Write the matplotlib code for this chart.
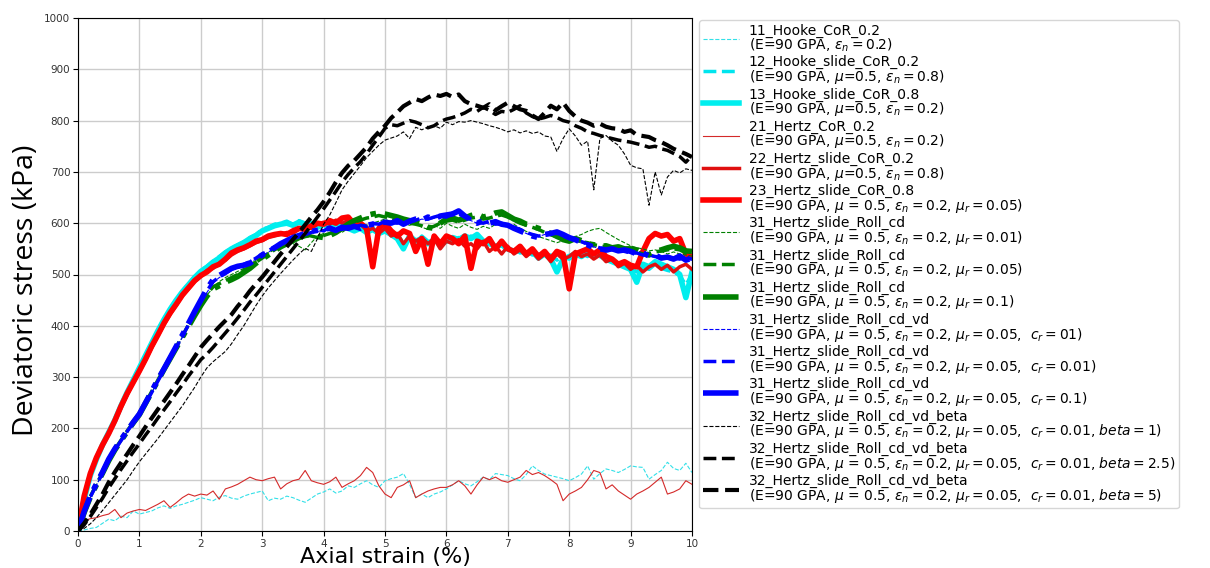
import numpy as np
import matplotlib
matplotlib.use("Agg")
import matplotlib.pyplot as plt

# axial strain grid (%), 0.1 % steps
strain = np.round(np.arange(0, 101) * 0.1, 1)

hooke_cor_02 = [
    0, 2, 5, 7, 15, 23, 20, 29, 26, 39,
    33, 36, 39, 45, 49, 44, 49, 52, 56, 60,
    65, 62, 59, 66, 69, 64, 62, 68, 72, 75,
    78, 59, 64, 62, 68, 65, 60, 56, 64, 72,
    76, 82, 74, 78, 88, 85, 92, 98, 90, 85,
    98, 102, 105, 112, 91, 65, 72, 65, 72, 76,
    82, 90, 98, 92, 88, 96, 105, 100, 112, 110,
    108, 102, 98, 110, 127, 118, 111, 108, 105, 102,
    98, 104, 111, 127, 101, 112, 121, 118, 114, 120,
    127, 125, 124, 101, 110, 118, 134, 122, 118, 132,
    114]

hooke_slide_cor_02 = [
    0, 64, 110, 142, 170, 194, 218, 246, 272, 296,
    320, 344, 368, 392, 414, 434, 452, 468, 482, 496,
    508, 516, 526, 535, 544, 552, 558, 564, 572, 578,
    588, 592, 598, 600, 604, 598, 605, 600, 602, 596,
    600, 594, 598, 590, 594, 588, 592, 585, 590, 578,
    588, 575, 580, 560, 572, 562, 575, 565, 570, 562,
    570, 565, 572, 568, 575, 570, 562, 565, 552, 556,
    548, 550, 542, 545, 538, 540, 535, 538, 528, 535,
    530, 538, 540, 535, 542, 535, 528, 530, 518, 520,
    512, 505, 515, 510, 520, 512, 508, 505, 498, 480,
    500]

hooke_slide_cor_08 = [
    0, 62, 108, 140, 168, 192, 216, 244, 270, 294,
    318, 342, 366, 390, 412, 432, 450, 466, 480, 494,
    506, 514, 524, 532, 542, 550, 556, 562, 570, 576,
    585, 590, 595, 598, 600, 596, 602, 598, 600, 592,
    598, 590, 600, 595, 590, 585, 590, 582, 588, 580,
    585, 578, 570, 550, 575, 565, 570, 560, 568, 560,
    565, 572, 568, 575, 570, 578, 565, 560, 555, 558,
    550, 545, 548, 540, 545, 532, 540, 530, 505, 530,
    535, 540, 535, 545, 538, 540, 530, 525, 520, 515,
    510, 485, 520, 515, 525, 520, 515, 510, 500, 455,
    505]

hertz_cor_02 = [
    0, 20, 24, 26, 30, 33, 42, 26, 35, 39,
    42, 40, 46, 52, 59, 46, 55, 65, 72, 68,
    72, 70, 78, 62, 82, 86, 91, 98, 105, 100,
    98, 102, 105, 82, 92, 98, 101, 118, 98, 94,
    91, 96, 105, 85, 92, 98, 108, 124, 114, 88,
    72, 65, 85, 90, 98, 65, 72, 78, 82, 85,
    85, 90, 98, 88, 72, 90, 105, 100, 105, 98,
    95, 100, 105, 118, 110, 114, 108, 100, 91, 59,
    72, 78, 85, 100, 118, 114, 82, 90, 78, 70,
    62, 72, 78, 85, 95, 105, 72, 76, 82, 98,
    91]

hertz_slide_cor_02 = [
    0, 65, 110, 140, 166, 190, 214, 240, 265, 288,
    310, 333, 357, 380, 402, 422, 440, 458, 472, 486,
    496, 508, 512, 522, 528, 538, 545, 550, 556, 562,
    566, 572, 575, 578, 582, 580, 588, 592, 590, 598,
    602, 598, 606, 600, 605, 595, 602, 585, 590, 580,
    590, 575, 580, 560, 575, 565, 572, 560, 570, 550,
    565, 560, 568, 555, 560, 550, 565, 545, 555, 540,
    555, 540, 548, 535, 545, 530, 540, 525, 540, 530,
    535, 545, 535, 540, 530, 538, 525, 530, 515, 522,
    510, 518, 505, 515, 520, 510, 518, 505, 515, 520,
    510]

hertz_slide_cor_08 = [
    0, 68, 112, 143, 168, 190, 215, 243, 268, 290,
    312, 335, 360, 382, 405, 425, 442, 460, 474, 488,
    498, 505, 515, 520, 530, 542, 548, 552, 558, 565,
    568, 575, 578, 580, 578, 585, 590, 588, 595, 600,
    598, 605, 600, 610, 612, 598, 600, 590, 515, 590,
    600, 585, 575, 585, 580, 545, 570, 520, 575, 560,
    575, 570, 560, 575, 512, 565, 560, 570, 550, 565,
    550, 545, 555, 540, 550, 535, 545, 530, 545, 540,
    472, 540, 545, 550, 540, 548, 535, 530, 520, 525,
    518, 515, 545, 570, 580, 575, 578, 565, 570, 540,
    535]

roll_cd_001 = [
    0, 36, 65, 90, 112, 137, 157, 176, 194, 210,
    226, 248, 270, 292, 314, 335, 357, 378, 400, 422,
    443, 460, 474, 486, 494, 500, 506, 512, 520, 528,
    535, 542, 548, 552, 556, 560, 555, 548, 562, 575,
    580, 578, 585, 582, 590, 594, 598, 596, 600, 604,
    608, 602, 606, 600, 596, 600, 592, 588, 596, 590,
    600, 594, 590, 598, 592, 588, 594, 590, 598, 596,
    594, 598, 590, 584, 578, 574, 570, 566, 562, 566,
    570, 574, 578, 584, 588, 590, 582, 575, 568, 562,
    556, 552, 550, 546, 548, 545, 540, 544, 540, 538,
    536]

roll_cd_005 = [
    0, 37, 67, 91, 114, 139, 159, 177, 195, 212,
    228, 250, 272, 294, 316, 337, 359, 380, 402, 424,
    445, 462, 476, 482, 488, 494, 500, 508, 516, 524,
    532, 540, 548, 555, 562, 568, 574, 578, 575, 572,
    576, 580, 585, 592, 596, 602, 606, 610, 612, 615,
    612, 610, 606, 604, 600, 598, 595, 590, 594, 600,
    604, 606, 602, 606, 610, 612, 608, 610, 614, 616,
    612, 606, 600, 596, 592, 588, 582, 578, 572, 568,
    566, 568, 564, 562, 558, 556, 554, 552, 550, 548,
    546, 544, 540, 540, 544, 546, 548, 550, 548, 542,
    540]

roll_cd_01 = [
    0, 36, 66, 90, 113, 137, 158, 176, 194, 211,
    227, 249, 271, 293, 315, 336, 357, 378, 399, 420,
    440, 458, 472, 478, 485, 490, 496, 504, 512, 522,
    530, 538, 546, 554, 560, 566, 572, 576, 578, 574,
    572, 576, 582, 590, 598, 605, 610, 615, 618, 620,
    618, 615, 612, 608, 605, 602, 598, 592, 590, 600,
    608, 610, 606, 610, 615, 618, 612, 615, 620, 622,
    615, 608, 604, 598, 594, 590, 585, 580, 576, 568,
    565, 570, 566, 560, 558, 555, 556, 552, 554, 550,
    550, 548, 542, 538, 545, 548, 552, 555, 552, 546,
    545]

roll_vd_01 = [
    0, 35, 65, 89, 112, 136, 157, 175, 193, 210,
    226, 247, 269, 291, 313, 334, 356, 378, 400, 422,
    445, 465, 484, 494, 500, 508, 512, 518, 524, 530,
    536, 544, 550, 556, 562, 568, 572, 576, 580, 584,
    586, 588, 590, 586, 592, 590, 594, 592, 596, 598,
    600, 598, 602, 600, 606, 604, 608, 606, 610, 612,
    610, 615, 620, 610, 605, 600, 602, 598, 600, 596,
    592, 590, 586, 580, 576, 574, 578, 580, 578, 574,
    570, 565, 562, 556, 554, 550, 548, 546, 544, 546,
    542, 540, 540, 536, 534, 532, 530, 528, 532, 530,
    528]

roll_vd_001 = [
    0, 36, 66, 90, 113, 138, 158, 176, 194, 211,
    227, 248, 270, 292, 314, 336, 358, 380, 402, 425,
    447, 468, 486, 495, 502, 510, 514, 520, 525, 532,
    540, 546, 554, 558, 565, 570, 575, 578, 582, 588,
    585, 592, 590, 588, 594, 592, 596, 594, 600, 598,
    604, 602, 600, 606, 602, 606, 610, 608, 612, 615,
    612, 620, 618, 612, 608, 602, 600, 604, 598, 600,
    594, 592, 588, 582, 578, 575, 576, 582, 580, 575,
    570, 566, 564, 560, 555, 552, 546, 548, 548, 545,
    542, 542, 538, 538, 535, 534, 530, 532, 530, 534,
    530]

roll_vd_cr01 = [
    0, 38, 68, 92, 115, 140, 160, 178, 195, 212,
    228, 250, 272, 295, 316, 338, 360, 382, 405, 428,
    450, 472, 490, 498, 505, 512, 516, 518, 522, 530,
    538, 545, 552, 560, 566, 572, 576, 580, 584, 586,
    588, 590, 586, 592, 590, 594, 590, 596, 598, 600,
    602, 600, 605, 598, 604, 608, 606, 612, 608, 614,
    616, 618, 624, 614, 606, 600, 605, 600, 603, 598,
    596, 590, 585, 580, 575, 572, 578, 580, 583, 578,
    572, 568, 562, 558, 552, 550, 548, 550, 546, 548,
    545, 540, 542, 536, 538, 532, 534, 530, 536, 528,
    532]

beta_1 = [
    0, 5, 14, 26, 40, 55, 70, 85, 100, 118,
    135, 150, 165, 180, 196, 212, 228, 244, 262, 280,
    300, 318, 330, 340, 350, 365, 383, 400, 420, 440,
    458, 474, 488, 502, 515, 528, 540, 551, 545, 570,
    598, 616, 640, 665, 682, 697, 712, 728, 740, 752,
    762, 766, 770, 778, 765, 787, 782, 788, 790, 785,
    797, 792, 798, 797, 800, 797, 794, 790, 787, 783,
    778, 782, 776, 780, 775, 778, 770, 768, 740, 765,
    784, 770, 752, 760, 665, 765, 771, 760, 752, 735,
    713, 708, 706, 635, 700, 655, 690, 703, 698, 706,
    703]

beta_25 = [
    0, 12, 28, 46, 64, 84, 102, 120, 137, 154,
    170, 187, 203, 220, 236, 252, 269, 285, 302, 318,
    334, 345, 358, 372, 386, 400, 415, 430, 446, 460,
    475, 490, 505, 520, 535, 550, 565, 580, 596, 612,
    628, 645, 662, 680, 695, 708, 720, 735, 752, 768,
    785, 792, 790, 795, 800, 797, 792, 786, 790, 798,
    803, 806, 810, 815, 822, 818, 826, 820, 812, 818,
    816, 822, 829, 815, 808, 803, 806, 810, 806, 800,
    797, 790, 785, 778, 775, 771, 768, 765, 762, 760,
    758, 755, 752, 748, 750, 745, 742, 736, 730, 719,
    732]

beta_5 = [
    0, 15, 32, 52, 72, 95, 115, 133, 150, 168,
    185, 203, 220, 237, 253, 270, 287, 305, 322, 340,
    358, 372, 385, 398, 410, 422, 438, 452, 468, 482,
    495, 510, 525, 540, 554, 568, 582, 597, 612, 626,
    642, 660, 680, 698, 712, 722, 735, 748, 765, 778,
    790, 805, 816, 828, 835, 842, 838, 845, 851, 848,
    852, 846, 851, 838, 832, 829, 825, 832, 820, 828,
    835, 828, 822, 819, 810, 803, 815, 829, 822, 835,
    819, 808, 800, 796, 790, 794, 788, 785, 784, 778,
    781, 772, 770, 768, 762, 758, 752, 745, 740, 735,
    729]

labels = [
    '11_Hooke_CoR_0.2\n(E=90 GPA, $\\varepsilon_n = 0.2$)',
    '12_Hooke_slide_CoR_0.2\n(E=90 GPA, $\\mu$=0.5, $\\varepsilon_n = 0.8$)',
    '13_Hooke_slide_CoR_0.8\n(E=90 GPA, $\\mu$=0.5, $\\varepsilon_n = 0.2$)',
    '21_Hertz_CoR_0.2\n(E=90 GPA, $\\mu$=0.5, $\\varepsilon_n = 0.2$)',
    '22_Hertz_slide_CoR_0.2\n(E=90 GPA, $\\mu$=0.5, $\\varepsilon_n = 0.8$)',
    '23_Hertz_slide_CoR_0.8\n(E=90 GPA, $\\mu$ = 0.5, $\\varepsilon_n = 0.2$, $\\mu_r = 0.05$)',
    '31_Hertz_slide_Roll_cd\n(E=90 GPA, $\\mu$ = 0.5, $\\varepsilon_n = 0.2$, $\\mu_r = 0.01$)',
    '31_Hertz_slide_Roll_cd\n(E=90 GPA, $\\mu$ = 0.5, $\\varepsilon_n = 0.2$, $\\mu_r = 0.05$)',
    '31_Hertz_slide_Roll_cd\n(E=90 GPA, $\\mu$ = 0.5, $\\varepsilon_n = 0.2$, $\\mu_r = 0.1$)',
    '31_Hertz_slide_Roll_cd_vd\n(E=90 GPA, $\\mu$ = 0.5, $\\varepsilon_n = 0.2$, $\\mu_r = 0.05$,  $c_r = 01$)',
    '31_Hertz_slide_Roll_cd_vd\n(E=90 GPA, $\\mu$ = 0.5, $\\varepsilon_n = 0.2$, $\\mu_r = 0.05$,  $c_r = 0.01$)',
    '31_Hertz_slide_Roll_cd_vd\n(E=90 GPA, $\\mu$ = 0.5, $\\varepsilon_n = 0.2$, $\\mu_r = 0.05$,  $c_r = 0.1$)',
    '32_Hertz_slide_Roll_cd_vd_beta\n(E=90 GPA, $\\mu$ = 0.5, $\\varepsilon_n = 0.2$, $\\mu_r = 0.05$,  $c_r = 0.01$, $beta = 1$)',
    '32_Hertz_slide_Roll_cd_vd_beta\n(E=90 GPA, $\\mu$ = 0.5, $\\varepsilon_n = 0.2$, $\\mu_r = 0.05$,  $c_r = 0.01$, $beta = 2.5$)',
    '32_Hertz_slide_Roll_cd_vd_beta\n(E=90 GPA, $\\mu$ = 0.5, $\\varepsilon_n = 0.2$, $\\mu_r = 0.05$,  $c_r = 0.01$, $beta = 5$)',
]

series = [hooke_cor_02, hooke_slide_cor_02, hooke_slide_cor_08,
          hertz_cor_02, hertz_slide_cor_02, hertz_slide_cor_08,
          roll_cd_001, roll_cd_005, roll_cd_01,
          roll_vd_01, roll_vd_001, roll_vd_cr01,
          beta_1, beta_25, beta_5]

# (color, linestyle, linewidth)
styles = [
    ('#33e0e8', '--', 0.8), ('#00e5ee', '--', 2.5), ('#00eeee', '-', 4),
    ('#d42a2a', '-', 0.8), ('#e01010', '-', 2.5), ('red', '-', 4),
    ('green', '--', 0.8), ('green', '--', 2.5), ('green', '-.', 4),
    ('blue', '--', 0.8), ('blue', '--', 2.5), ('blue', '-.', 4),
    ('black', '--', 0.8), ('black', '--', 2.5), ('black', '--', 3),
]

fig = plt.figure(figsize=(12.1, 5.68), dpi=100)
ax = fig.add_axes([78 / 1210, 1 - 531 / 568, 614 / 1210, 513 / 568])

for y, lab, (c, ls, lw) in zip(series, labels, styles):
    ax.plot(strain, y, color=c, linestyle=ls, linewidth=lw, label=lab)

ax.set_xlim(0, 10)
ax.set_ylim(0, 1000)
ax.set_xticks(range(0, 11))
ax.set_yticks(range(0, 1001, 100))
ax.tick_params(labelsize=7.5, labelcolor='#333333', pad=2)
ax.grid(True, color='#cccccc', linewidth=1)
ax.set_axisbelow(True)

ax.set_xlabel('Axial strain (%)', fontsize=16)
ax.xaxis.set_label_coords(0.5, -0.031, transform=ax.transAxes)
ax.xaxis.label.set_va('top')
ax.set_ylabel('Deviatoric stress (kPa)', fontsize=20.5, family='Open Sans')
ax.yaxis.set_label_coords(-0.062, 0.47)

leg = ax.legend(loc='upper left', bbox_to_anchor=(1.012, 0.996), fontsize=10,
                handlelength=2.6, handletextpad=0.7, borderpad=0.25,
                labelspacing=0.1, borderaxespad=0.0, frameon=True)
for t in leg.get_texts():
    t.set_linespacing(0.9)

fig.savefig('out.png', dpi=100)
